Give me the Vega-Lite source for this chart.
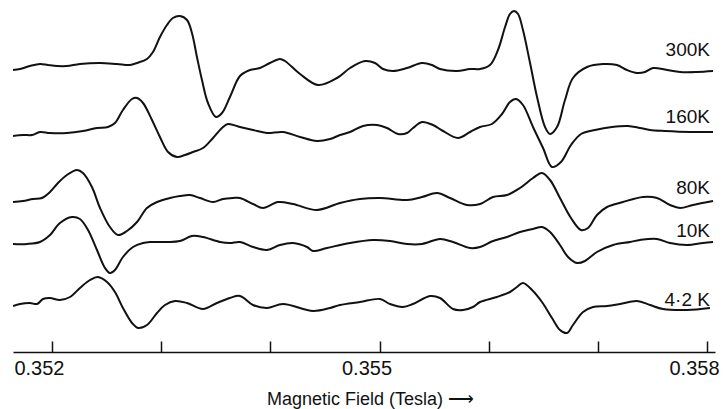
{
  "$schema": "https://vega.github.io/schema/vega-lite/v6.json",
  "width": 702,
  "height": 352,
  "autosize": {"type": "none"},
  "padding": {"left": 13, "top": 0, "right": 8, "bottom": 57},
  "background": "white",
  "config": {"view": {"stroke": null}, "font": "Liberation Sans"},
  "datasets": {
    "spectra": [
      {"t":"300K","B":0.351643,"v":282},{"t":"300K","B":0.351707,"v":283},{"t":"300K","B":0.351798,"v":286},{"t":"300K","B":0.351890,"v":288},{"t":"300K","B":0.351963,"v":287},{"t":"300K","B":0.352046,"v":286},{"t":"300K","B":0.352137,"v":286},{"t":"300K","B":0.352256,"v":288},{"t":"300K","B":0.352440,"v":289},{"t":"300K","B":0.352595,"v":288},{"t":"300K","B":0.352714,"v":287},{"t":"300K","B":0.352779,"v":289},{"t":"300K","B":0.352870,"v":293},{"t":"300K","B":0.352925,"v":300},{"t":"300K","B":0.352989,"v":315},{"t":"300K","B":0.353053,"v":327},{"t":"300K","B":0.353108,"v":334},{"t":"300K","B":0.353172,"v":336},{"t":"300K","B":0.353237,"v":332},{"t":"300K","B":0.353282,"v":319},{"t":"300K","B":0.353328,"v":295},{"t":"300K","B":0.353374,"v":272},{"t":"300K","B":0.353429,"v":249},{"t":"300K","B":0.353502,"v":235},{"t":"300K","B":0.353557,"v":239},{"t":"300K","B":0.353630,"v":255},{"t":"300K","B":0.353722,"v":276},{"t":"300K","B":0.353814,"v":282},{"t":"300K","B":0.353905,"v":284},{"t":"300K","B":0.353997,"v":289},{"t":"300K","B":0.354088,"v":293},{"t":"300K","B":0.354134,"v":291},{"t":"300K","B":0.354272,"v":278},{"t":"300K","B":0.354437,"v":267},{"t":"300K","B":0.354611,"v":274},{"t":"300K","B":0.354730,"v":284},{"t":"300K","B":0.354867,"v":291},{"t":"300K","B":0.354959,"v":289},{"t":"300K","B":0.355032,"v":283},{"t":"300K","B":0.355124,"v":281},{"t":"300K","B":0.355252,"v":284},{"t":"300K","B":0.355389,"v":289},{"t":"300K","B":0.355481,"v":287},{"t":"300K","B":0.355554,"v":283},{"t":"300K","B":0.355710,"v":281},{"t":"300K","B":0.355829,"v":283},{"t":"300K","B":0.355921,"v":283},{"t":"300K","B":0.356012,"v":287},{"t":"300K","B":0.356085,"v":302},{"t":"300K","B":0.356150,"v":325},{"t":"300K","B":0.356195,"v":338},{"t":"300K","B":0.356232,"v":341},{"t":"300K","B":0.356269,"v":338},{"t":"300K","B":0.356314,"v":322},{"t":"300K","B":0.356379,"v":289},{"t":"300K","B":0.356443,"v":255},{"t":"300K","B":0.356516,"v":225},{"t":"300K","B":0.356562,"v":218},{"t":"300K","B":0.356626,"v":225},{"t":"300K","B":0.356699,"v":252},{"t":"300K","B":0.356772,"v":274},{"t":"300K","B":0.356901,"v":285},{"t":"300K","B":0.357047,"v":288},{"t":"300K","B":0.357175,"v":287},{"t":"300K","B":0.357267,"v":282},{"t":"300K","B":0.357359,"v":279},{"t":"300K","B":0.357432,"v":280},{"t":"300K","B":0.357505,"v":284},{"t":"300K","B":0.357633,"v":282},{"t":"300K","B":0.357753,"v":280},{"t":"300K","B":0.357908,"v":280},{"t":"300K","B":0.358055,"v":281},

      {"t":"160K","B":0.351643,"v":216},{"t":"160K","B":0.351734,"v":217},{"t":"160K","B":0.351817,"v":217},{"t":"160K","B":0.351890,"v":220},{"t":"160K","B":0.351982,"v":219},{"t":"160K","B":0.352137,"v":219},{"t":"160K","B":0.352284,"v":221},{"t":"160K","B":0.352412,"v":224},{"t":"160K","B":0.352513,"v":225},{"t":"160K","B":0.352577,"v":229},{"t":"160K","B":0.352650,"v":242},{"t":"160K","B":0.352733,"v":253},{"t":"160K","B":0.352779,"v":254},{"t":"160K","B":0.352834,"v":249},{"t":"160K","B":0.352916,"v":232},{"t":"160K","B":0.352989,"v":215},{"t":"160K","B":0.353063,"v":200},{"t":"160K","B":0.353145,"v":195},{"t":"160K","B":0.353218,"v":197},{"t":"160K","B":0.353292,"v":200},{"t":"160K","B":0.353383,"v":204},{"t":"160K","B":0.353475,"v":214},{"t":"160K","B":0.353557,"v":224},{"t":"160K","B":0.353612,"v":228},{"t":"160K","B":0.353722,"v":225},{"t":"160K","B":0.353841,"v":222},{"t":"160K","B":0.353969,"v":219},{"t":"160K","B":0.354116,"v":220},{"t":"160K","B":0.354272,"v":215},{"t":"160K","B":0.354427,"v":211},{"t":"160K","B":0.354547,"v":213},{"t":"160K","B":0.354638,"v":217},{"t":"160K","B":0.354730,"v":220},{"t":"160K","B":0.354849,"v":226},{"t":"160K","B":0.354977,"v":227},{"t":"160K","B":0.355069,"v":224},{"t":"160K","B":0.355169,"v":218},{"t":"160K","B":0.355252,"v":219},{"t":"160K","B":0.355307,"v":224},{"t":"160K","B":0.355389,"v":230},{"t":"160K","B":0.355490,"v":227},{"t":"160K","B":0.355582,"v":221},{"t":"160K","B":0.355719,"v":214},{"t":"160K","B":0.355829,"v":220},{"t":"160K","B":0.355921,"v":225},{"t":"160K","B":0.356030,"v":228},{"t":"160K","B":0.356122,"v":238},{"t":"160K","B":0.356195,"v":250},{"t":"160K","B":0.356250,"v":253},{"t":"160K","B":0.356314,"v":247},{"t":"160K","B":0.356406,"v":225},{"t":"160K","B":0.356498,"v":204},{"t":"160K","B":0.356580,"v":185},{"t":"160K","B":0.356662,"v":190},{"t":"160K","B":0.356754,"v":207},{"t":"160K","B":0.356846,"v":218},{"t":"160K","B":0.356974,"v":222},{"t":"160K","B":0.357130,"v":225},{"t":"160K","B":0.357276,"v":226},{"t":"160K","B":0.357386,"v":224},{"t":"160K","B":0.357478,"v":222},{"t":"160K","B":0.357615,"v":221},{"t":"160K","B":0.357844,"v":220},{"t":"160K","B":0.358055,"v":220},

      {"t":"80K","B":0.351643,"v":150},{"t":"80K","B":0.351734,"v":151},{"t":"80K","B":0.351826,"v":153},{"t":"80K","B":0.351908,"v":154},{"t":"80K","B":0.351982,"v":160},{"t":"80K","B":0.352055,"v":169},{"t":"80K","B":0.352137,"v":177},{"t":"80K","B":0.352229,"v":182},{"t":"80K","B":0.352284,"v":179},{"t":"80K","B":0.352366,"v":165},{"t":"80K","B":0.352440,"v":144},{"t":"80K","B":0.352531,"v":125},{"t":"80K","B":0.352605,"v":117},{"t":"80K","B":0.352687,"v":121},{"t":"80K","B":0.352779,"v":130},{"t":"80K","B":0.352870,"v":144},{"t":"80K","B":0.352962,"v":150},{"t":"80K","B":0.353081,"v":154},{"t":"80K","B":0.353172,"v":156},{"t":"80K","B":0.353264,"v":157},{"t":"80K","B":0.353356,"v":154},{"t":"80K","B":0.353475,"v":150},{"t":"80K","B":0.353566,"v":153},{"t":"80K","B":0.353658,"v":154},{"t":"80K","B":0.353722,"v":154},{"t":"80K","B":0.353841,"v":148},{"t":"80K","B":0.353933,"v":144},{"t":"80K","B":0.354070,"v":150},{"t":"80K","B":0.354208,"v":148},{"t":"80K","B":0.354427,"v":142},{"t":"80K","B":0.354638,"v":149},{"t":"80K","B":0.354821,"v":153},{"t":"80K","B":0.355005,"v":154},{"t":"80K","B":0.355252,"v":152},{"t":"80K","B":0.355389,"v":155},{"t":"80K","B":0.355527,"v":159},{"t":"80K","B":0.355646,"v":154},{"t":"80K","B":0.355801,"v":147},{"t":"80K","B":0.355921,"v":148},{"t":"80K","B":0.356040,"v":155},{"t":"80K","B":0.356168,"v":157},{"t":"80K","B":0.356287,"v":164},{"t":"80K","B":0.356406,"v":174},{"t":"80K","B":0.356488,"v":179},{"t":"80K","B":0.356562,"v":172},{"t":"80K","B":0.356653,"v":154},{"t":"80K","B":0.356754,"v":134},{"t":"80K","B":0.356846,"v":122},{"t":"80K","B":0.356910,"v":124},{"t":"80K","B":0.356992,"v":137},{"t":"80K","B":0.357084,"v":145},{"t":"80K","B":0.357230,"v":150},{"t":"80K","B":0.357414,"v":155},{"t":"80K","B":0.357542,"v":154},{"t":"80K","B":0.357661,"v":147},{"t":"80K","B":0.357753,"v":144},{"t":"80K","B":0.357872,"v":147},{"t":"80K","B":0.358055,"v":151},

      {"t":"10K","B":0.351643,"v":108},{"t":"10K","B":0.351771,"v":108},{"t":"10K","B":0.351890,"v":110},{"t":"10K","B":0.351982,"v":117},{"t":"10K","B":0.352073,"v":129},{"t":"10K","B":0.352183,"v":135},{"t":"10K","B":0.352256,"v":133},{"t":"10K","B":0.352330,"v":122},{"t":"10K","B":0.352412,"v":102},{"t":"10K","B":0.352486,"v":84},{"t":"10K","B":0.352531,"v":79},{"t":"10K","B":0.352577,"v":82},{"t":"10K","B":0.352650,"v":95},{"t":"10K","B":0.352742,"v":105},{"t":"10K","B":0.352834,"v":109},{"t":"10K","B":0.352898,"v":110},{"t":"10K","B":0.353053,"v":110},{"t":"10K","B":0.353172,"v":111},{"t":"10K","B":0.353282,"v":116},{"t":"10K","B":0.353383,"v":115},{"t":"10K","B":0.353539,"v":110},{"t":"10K","B":0.353630,"v":109},{"t":"10K","B":0.353722,"v":110},{"t":"10K","B":0.353841,"v":105},{"t":"10K","B":0.353969,"v":102},{"t":"10K","B":0.354088,"v":107},{"t":"10K","B":0.354208,"v":109},{"t":"10K","B":0.354336,"v":105},{"t":"10K","B":0.354391,"v":101},{"t":"10K","B":0.354519,"v":104},{"t":"10K","B":0.354730,"v":109},{"t":"10K","B":0.354940,"v":112},{"t":"10K","B":0.355096,"v":111},{"t":"10K","B":0.355252,"v":108},{"t":"10K","B":0.355389,"v":108},{"t":"10K","B":0.355554,"v":113},{"t":"10K","B":0.355673,"v":110},{"t":"10K","B":0.355829,"v":104},{"t":"10K","B":0.355921,"v":105},{"t":"10K","B":0.356040,"v":111},{"t":"10K","B":0.356168,"v":115},{"t":"10K","B":0.356287,"v":120},{"t":"10K","B":0.356406,"v":123},{"t":"10K","B":0.356488,"v":125},{"t":"10K","B":0.356562,"v":120},{"t":"10K","B":0.356653,"v":107},{"t":"10K","B":0.356727,"v":95},{"t":"10K","B":0.356809,"v":89},{"t":"10K","B":0.356882,"v":91},{"t":"10K","B":0.356992,"v":100},{"t":"10K","B":0.357139,"v":107},{"t":"10K","B":0.357295,"v":110},{"t":"10K","B":0.357386,"v":112},{"t":"10K","B":0.357542,"v":113},{"t":"10K","B":0.357661,"v":109},{"t":"10K","B":0.357817,"v":107},{"t":"10K","B":0.357963,"v":109},{"t":"10K","B":0.358055,"v":110},

      {"t":"4.2K","B":0.351643,"v":46},{"t":"4.2K","B":0.351707,"v":48},{"t":"4.2K","B":0.351798,"v":49},{"t":"4.2K","B":0.351863,"v":48},{"t":"4.2K","B":0.351918,"v":53},{"t":"4.2K","B":0.351982,"v":54},{"t":"4.2K","B":0.352073,"v":52},{"t":"4.2K","B":0.352165,"v":55},{"t":"4.2K","B":0.352256,"v":64},{"t":"4.2K","B":0.352348,"v":72},{"t":"4.2K","B":0.352421,"v":75},{"t":"4.2K","B":0.352504,"v":70},{"t":"4.2K","B":0.352577,"v":60},{"t":"4.2K","B":0.352650,"v":44},{"t":"4.2K","B":0.352733,"v":29},{"t":"4.2K","B":0.352788,"v":24},{"t":"4.2K","B":0.352870,"v":27},{"t":"4.2K","B":0.352962,"v":39},{"t":"4.2K","B":0.353035,"v":47},{"t":"4.2K","B":0.353127,"v":51},{"t":"4.2K","B":0.353237,"v":49},{"t":"4.2K","B":0.353383,"v":43},{"t":"4.2K","B":0.353511,"v":49},{"t":"4.2K","B":0.353630,"v":54},{"t":"4.2K","B":0.353722,"v":56},{"t":"4.2K","B":0.353841,"v":47},{"t":"4.2K","B":0.353969,"v":44},{"t":"4.2K","B":0.354116,"v":48},{"t":"4.2K","B":0.354391,"v":41},{"t":"4.2K","B":0.354547,"v":44},{"t":"4.2K","B":0.354638,"v":47},{"t":"4.2K","B":0.354821,"v":50},{"t":"4.2K","B":0.355005,"v":53},{"t":"4.2K","B":0.355096,"v":48},{"t":"4.2K","B":0.355215,"v":45},{"t":"4.2K","B":0.355307,"v":48},{"t":"4.2K","B":0.355463,"v":56},{"t":"4.2K","B":0.355554,"v":54},{"t":"4.2K","B":0.355673,"v":43},{"t":"4.2K","B":0.355765,"v":42},{"t":"4.2K","B":0.355856,"v":45},{"t":"4.2K","B":0.355921,"v":50},{"t":"4.2K","B":0.356076,"v":55},{"t":"4.2K","B":0.356195,"v":60},{"t":"4.2K","B":0.356259,"v":65},{"t":"4.2K","B":0.356314,"v":69},{"t":"4.2K","B":0.356397,"v":62},{"t":"4.2K","B":0.356488,"v":50},{"t":"4.2K","B":0.356580,"v":34},{"t":"4.2K","B":0.356653,"v":22},{"t":"4.2K","B":0.356717,"v":19},{"t":"4.2K","B":0.356772,"v":27},{"t":"4.2K","B":0.356864,"v":40},{"t":"4.2K","B":0.356956,"v":45},{"t":"4.2K","B":0.357084,"v":46},{"t":"4.2K","B":0.357203,"v":48},{"t":"4.2K","B":0.357359,"v":51},{"t":"4.2K","B":0.357478,"v":47},{"t":"4.2K","B":0.357597,"v":43},{"t":"4.2K","B":0.357817,"v":42},{"t":"4.2K","B":0.358027,"v":44}
    ],
    "labels": [
      {"label": "300K", "B": 0.358027, "v": 302},
      {"label": "160K", "B": 0.358027, "v": 235},
      {"label": "80K", "B": 0.358027, "v": 164},
      {"label": "10K", "B": 0.358027, "v": 121},
      {"label": "4·2 K", "B": 0.358027, "v": 52}
    ]
  },
  "layer": [
    {
      "data": {"name": "spectra"},
      "mark": {"type": "line", "color": "#111111", "strokeWidth": 2, "interpolate": "catmull-rom", "clip": true},
      "encoding": {
        "x": {
          "field": "B", "type": "quantitative",
          "scale": {"domain": [0.351643, 0.358073], "nice": false, "zero": false},
          "axis": {
            "title": "Magnetic Field (Tesla)  ⟶",
            "values": [0.352, 0.353, 0.354, 0.355, 0.356, 0.357, 0.358],
            "labelExpr": "(datum.value < 0.3525 || abs(datum.value - 0.355) < 0.0001 || datum.value > 0.3575) ? format(datum.value, '.3f') : ''",
            "grid": false,
            "domainColor": "#111111",
            "domainWidth": 1.5,
            "tickColor": "#111111",
            "tickWidth": 1.5,
            "tickSize": -11,
            "labelFont": "Liberation Sans",
            "labelFontSize": 20,
            "labelColor": "#111111",
            "labelOffset": -13,
            "labelPadding": 17,
            "labelBound": false,
            "labelFlush": false,
            "titleFont": "Liberation Sans",
            "titleFontSize": 18,
            "titleFontWeight": "normal",
            "titleColor": "#111111",
            "titlePadding": 12,
            "titleX": 357
          }
        },
        "y": {
          "field": "v", "type": "quantitative",
          "scale": {"domain": [0, 352], "nice": false, "zero": false},
          "axis": null
        },
        "detail": {"field": "t"}
      }
    },
    {
      "data": {"name": "labels"},
      "mark": {"type": "text", "align": "right", "baseline": "middle", "font": "Liberation Sans", "fontSize": 19, "color": "#111111"},
      "encoding": {
        "x": {"field": "B", "type": "quantitative"},
        "y": {"field": "v", "type": "quantitative"},
        "text": {"field": "label"}
      }
    }
  ]
}
